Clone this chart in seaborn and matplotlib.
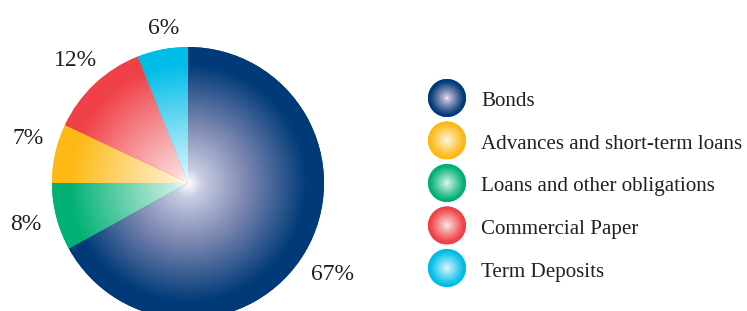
import numpy as np
import matplotlib
matplotlib.use("Agg")
import matplotlib.pyplot as plt
import seaborn as sns
from matplotlib.colors import LinearSegmentedColormap, to_rgb
from matplotlib.patches import Circle

# ---- data ----
categories = ["Bonds", "Advances and short-term loans", "Loans and other obligations",
              "Commercial Paper", "Term Deposits"]
shares = [67, 7, 8, 12, 6]
colors = ["#003a78", "#fdb913", "#00b173", "#ef4147", "#00bde8"]
pie_order = [0, 2, 1, 3, 4]   # clockwise from 12 o'clock

# label layout (pie order): radial factor and angular nudge in degrees
label_radius = [1.245, 1.225, 1.229, 1.234, 1.169]
label_nudge = [-1.1, -0.9, -3.8, -1.2, -1.8]

sns.set_theme(style="white")
plt.rcParams["font.family"] = ["Liberation Serif", "DejaVu Serif"]

W, H = 747, 311
fig = plt.figure(figsize=(W / 100, H / 100), dpi=100)
ax = fig.add_axes([0, 0, 1, 1])

cx, cy, R = 188, H - 183, 136
vals = [shares[i] for i in pie_order]
cols = [colors[i] for i in pie_order]

LABEL_PT = 17
wedges, texts, autotexts = ax.pie(
    vals, colors=cols, startangle=90, counterclock=False,
    center=(cx, cy), radius=R, autopct=lambda p: f"{p:.0f}%",
    pctdistance=1.23, textprops=dict(fontsize=LABEL_PT, color="#231f20"),
    wedgeprops=dict(linewidth=0))


def make_cmap(c):
    c = np.array(to_rgb(c))
    wht = np.ones(3)
    if tuple(np.round(c, 3)) == tuple(np.round(to_rgb("#003a78"), 3)):
        stops = [(0.0, "#ffffff"), (0.12, "#c8cce2"), (0.5, "#7a86b0"), (1.0, tuple(c))]
    else:
        stops = [(0.0, "#ffffff"), (0.12, tuple(wht * 0.78 + c * 0.22)),
                 (0.5, tuple(wht * 0.45 + c * 0.55)), (1.0, tuple(c))]
    return LinearSegmentedColormap.from_list("g", stops)


def radial_img(x0, y0, rad, n=400, scale=0.88, gamma=1.0):
    xs = np.linspace(-1, 1, n)
    X, Y = np.meshgrid(xs, xs)
    r = np.sqrt(X ** 2 + Y ** 2)
    t = np.clip(r / scale, 0, 1) ** gamma
    return t, (x0 - rad, x0 + rad, y0 - rad, y0 + rad)


for w, c in zip(wedges, cols):
    t, ext = radial_img(cx, cy, R)
    im = ax.imshow(t, cmap=make_cmap(c), vmin=0, vmax=1, extent=ext, origin="lower",
                   zorder=w.get_zorder() + 0.1, interpolation="bilinear")
    im.set_clip_path(w)

# ---- place percentage labels just outside the rim ----
em = LABEL_PT * 100 / 72.0
cap = 0.66 * em
for w, t, rf, nd in zip(wedges, autotexts, label_radius, label_nudge):
    th = np.deg2rad((w.theta1 + w.theta2) / 2 + nd)
    d = R * rf
    t.set_position((cx + d * np.cos(th), cy + d * np.sin(th) - cap / 2))
    t.set_ha("center")
    t.set_va("baseline")

# ---- legend ----
lx, ly0, dy_leg, lr = 447, 98, 42.5, 19
for i, (name, c) in enumerate(zip(categories, colors)):
    yy = H - (ly0 + i * dy_leg)
    circ = Circle((lx, yy), lr, facecolor=c, edgecolor="none", zorder=3)
    ax.add_patch(circ)
    t, ext = radial_img(lx, yy, lr, n=120, scale=0.9, gamma=0.9)
    im = ax.imshow(t, cmap=make_cmap(c), vmin=0, vmax=1, extent=ext, origin="lower",
                   zorder=3.1, interpolation="bilinear")
    im.set_clip_path(circ)
    ax.text(481, yy - 8.5, name, fontsize=15.1, color="#231f20",
            va="baseline", ha="left")

ax.set_xlim(0, W)
ax.set_ylim(0, H)
ax.set_aspect("equal")
ax.axis("off")

fig.savefig("out.png", dpi=100)
